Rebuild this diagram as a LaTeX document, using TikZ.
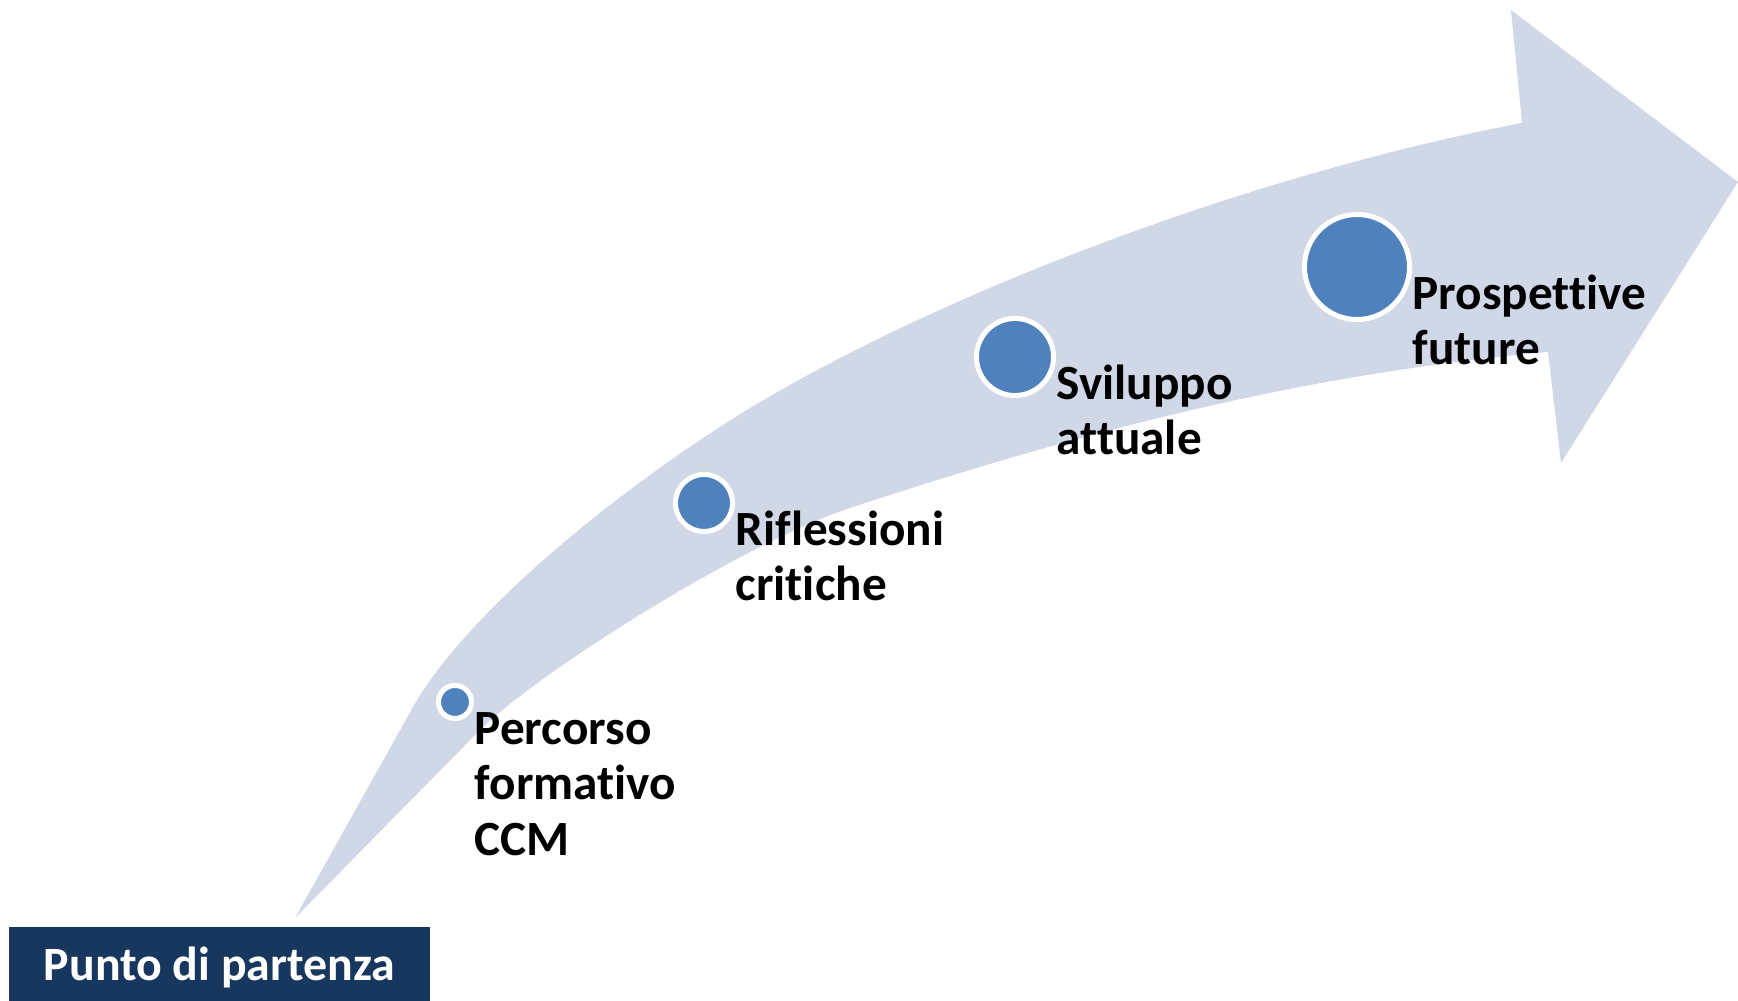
\documentclass[tikz,border=0pt]{standalone}
\usepackage{fontspec}
\setmainfont{Carlito}[Ligatures=NoCommon]
\definecolor{bandblue}{HTML}{D0D8E8}
\definecolor{dotblue}{HTML}{4F81BD}
\definecolor{startnavy}{HTML}{17375E}
\tikzstyle{band}=[fill=bandblue]
\tikzstyle{stage}=[circle,fill=dotblue,draw=white,line width=0.05cm,inner sep=0pt]
\tikzstyle{stagetext}=[anchor=base west,text width=3cm,align=left,inner sep=0pt,font=\fontsize{14}{15.8}\selectfont\bfseries]
\tikzstyle{startbox}=[rectangle,fill=startnavy,text=white,minimum width=4.21cm,minimum height=0.74cm,text depth=0pt,font=\fontsize{13.6}{16}\selectfont\bfseries]

\begin{document}
\begin{tikzpicture}[x=0.01cm,y=-0.01cm]
    \useasboundingbox (0,0) rectangle (1738,1001);

    \fill [band] (295,918) -- (413,707)
        .. controls (459,625) and (593,505) .. (750,408)
        .. controls (952,287) and (1261,172.6) .. (1522,123)
        -- (1511,10) -- (1738,182) -- (1561,463) -- (1548,352)
        .. controls (1331,371.6) and (1121,418.5) .. (850,508)
        .. controls (739,545) and (535,675) .. (480,730)
        -- cycle;

    \node (c1) at (455,702) [stage,minimum size=0.33cm] {};
    \node (c2) at (704,503) [stage,minimum size=0.57cm] {};
    \node (c3) at (1015,357) [stage,minimum size=0.77cm] {};
    \node (c4) at (1357,267) [stage,minimum size=1.05cm] {};

    \node (t1) at (c1.east) [stagetext,yshift=-0.42cm] {Percorso\\formativo\\CCM};
    \node (t2) at (c2.east) [stagetext,yshift=-0.42cm] {Riflessioni\\critiche};
    \node (t3) at (c3.east) [stagetext,yshift=-0.42cm] {Sviluppo\\attuale};
    \node (t4) at (c4.east) [stagetext,yshift=-0.42cm] {Prospettive\\future};

    \node (start) at (219.5,964) [startbox] {Punto di partenza};
\end{tikzpicture}
\end{document}
